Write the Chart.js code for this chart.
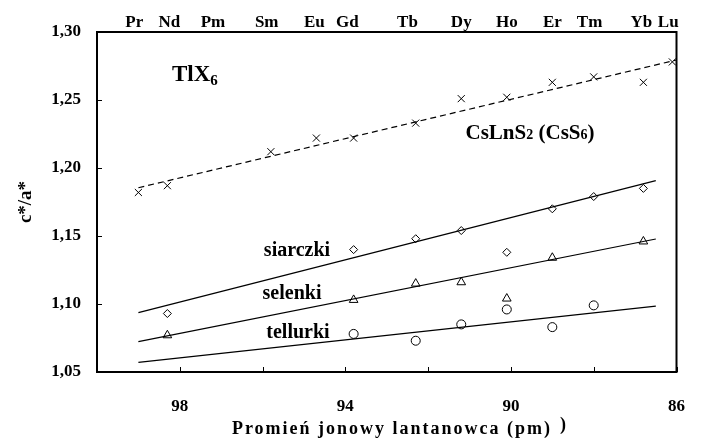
<!DOCTYPE html>
<html>
<head>
<meta charset="utf-8">
<script src="https://cdn.jsdelivr.net/npm/chart.js@4.4.1/dist/chart.umd.min.js"></script>
<style>
  html, body { margin: 0; padding: 0; background: #fff; }
</style>
</head>
<body>
<canvas id="chart" width="701" height="439"></canvas>
<script>
const FONT = '"Liberation Serif", "Times New Roman", serif';

// lanthanide labels along the top edge, and where they sit (pm)
const elementNames = ['Pr', 'Nd', 'Pm', 'Sm', 'Eu', 'Gd', 'Tb', 'Dy', 'Ho', 'Er', 'Tm', 'Yb', 'Lu'];
const elementPos = [99.1, 98.25, 97.2, 95.9, 94.75, 93.95, 92.5, 91.2, 90.1, 89.0, 88.1, 86.85, 86.2];

// CsLnS2 (CsS6)
const csX = [99.0, 98.3, 95.8, 94.7, 93.8, 92.3, 91.2, 90.1, 89.0, 88.0, 86.8, 86.1];
const csY = [1.182, 1.187, 1.212, 1.222, 1.222, 1.233, 1.251, 1.252, 1.263, 1.267, 1.263, 1.278];
const csFitX = [99.0, 86.0];
const csFitY = [1.1855, 1.2794];

// siarczki
const sulX = [98.3, 93.8, 92.3, 91.2, 90.1, 89.0, 88.0, 86.8];
const sulY = [1.093, 1.140, 1.148, 1.154, 1.138, 1.170, 1.179, 1.185];
const sulFitX = [99.0, 86.5];
const sulFitY = [1.0936, 1.1907];

// selenki
const selX = [98.3, 93.8, 92.3, 91.2, 90.1, 89.0, 86.8];
const selY = [1.077, 1.103, 1.115, 1.116, 1.104, 1.134, 1.146];
const selFitX = [99.0, 86.5];
const selFitY = [1.0723, 1.1478];

// tellurki
const telX = [93.8, 92.3, 91.2, 90.1, 89.0, 88.0];
const telY = [1.078, 1.073, 1.085, 1.096, 1.083, 1.099];
const telFitX = [99.0, 86.5];
const telFitY = [1.0571, 1.0985];

const pts = (xs, ys) => xs.map((x, i) => ({ x, y: ys[i] }));

function markers(xs, ys, style, radius) {
    return {
        type: 'scatter', data: pts(xs, ys), pointStyle: style, pointRadius: radius,
        borderColor: '#000', backgroundColor: '#fff', borderWidth: 1, showLine: false
    };
}
function fit(xs, ys, dash) {
    return {
        type: 'line', data: pts(xs, ys), borderColor: '#000', borderWidth: 1.2,
        borderDash: dash || [], pointRadius: 0, fill: false, tension: 0
    };
}

function drawRuns(ctx, x, y, runs, align) {
    let w = 0;
    runs.forEach(r => { ctx.font = `bold ${r.size}px ${FONT}`; w += ctx.measureText(r.t).width; });
    let cx = align === 'center' ? x - w / 2 : x;
    runs.forEach(r => {
        ctx.font = `bold ${r.size}px ${FONT}`;
        ctx.fillText(r.t, cx, y + (r.dy || 0));
        cx += ctx.measureText(r.t).width;
    });
}

const framePlugin = {
    id: 'frame',
    afterDraw(chart) {
        const ctx = chart.ctx;
        const { left, top, right, bottom } = chart.chartArea;
        const xs = chart.scales.x, ys = chart.scales.y;
        ctx.save();
        ctx.strokeStyle = '#000';
        ctx.lineWidth = 1;
        ys.ticks.forEach(t => {
            const py = Math.round(ys.getPixelForValue(t.value)) + 0.5;
            ctx.beginPath(); ctx.moveTo(left, py); ctx.lineTo(left + 5, py); ctx.stroke();
        });
        xs.ticks.forEach(t => {
            const px = Math.round(xs.getPixelForValue(t.value)) + 0.5;
            ctx.beginPath(); ctx.moveTo(px, bottom); ctx.lineTo(px, bottom - 5); ctx.stroke();
        });
        ctx.lineWidth = 2;
        ctx.strokeRect(left, top, right - left, bottom - top);

        ctx.fillStyle = '#000';
        ctx.textBaseline = 'alphabetic';
        ctx.textAlign = 'left';
        drawRuns(ctx, 172, 81, [{ t: 'TlX', size: 23 }, { t: '6', size: 15, dy: 4 }], 'left');
        drawRuns(ctx, 530, 139, [
            { t: 'CsLnS', size: 21 }, { t: '2', size: 14 }, { t: ' (CsS', size: 21 },
            { t: '6', size: 14 }, { t: ')', size: 21 }
        ], 'center');
        drawRuns(ctx, 297, 256, [{ t: 'siarczki', size: 20 }], 'center');
        drawRuns(ctx, 292, 299, [{ t: 'selenki', size: 20 }], 'center');
        drawRuns(ctx, 298, 338, [{ t: 'tellurki', size: 20 }], 'center');

        ctx.font = `bold 18px ${FONT}`;
        ctx.letterSpacing = '2px';
        ctx.textAlign = 'center';
        ctx.fillText('Promień jonowy lantanowca (pm)', 392, 434);
        ctx.letterSpacing = '0px';
        ctx.fillText(')', 563, 430);
        ctx.restore();
    }
};

new Chart(document.getElementById('chart'), {
    type: 'scatter',
    data: {
        datasets: [
            fit(csFitX, csFitY, [6, 4]),
            fit(sulFitX, sulFitY),
            fit(selFitX, selFitY),
            fit(telFitX, telFitY),
            markers(csX, csY, 'crossRot', 5),
            markers(sulX, sulY, 'rectRot', 4),
            markers(selX, selY, 'triangle', 5),
            markers(telX, telY, 'circle', 4.5)
        ]
    },
    options: {
        responsive: false,
        animation: false,
        layout: { padding: { left: 0, top: 0, right: 11, bottom: 0 } },
        plugins: { legend: { display: false }, tooltip: { enabled: false } },
        scales: {
            x: {
                type: 'linear', reverse: true, min: 86, max: 100,
                afterFit: s => { s.height = 67; },
                grid: { display: false }, border: { display: false },
                ticks: {
                    stepSize: 2, autoSkip: false, maxRotation: 0, padding: 16,
                    color: '#000', font: { family: FONT, size: 17, weight: 'bold' },
                    callback: v => ((v - 86) % 4 === 0 ? v : '')
                }
            },
            x2: {
                type: 'linear', position: 'top', reverse: true, min: 86, max: 100,
                afterFit: s => { s.height = 32; },
                afterBuildTicks: s => { s.ticks = elementPos.map(v => ({ value: v })); },
                grid: { display: false }, border: { display: false },
                ticks: {
                    autoSkip: false, maxRotation: 0, padding: -9,
                    color: '#000', font: { family: FONT, size: 17, weight: 'bold' },
                    callback: (v, i) => elementNames[i]
                }
            },
            y: {
                min: 1.05, max: 1.30,
                afterFit: s => { s.width = 97; },
                grid: { display: false }, border: { display: false },
                ticks: {
                    stepSize: 0.05, padding: 8,
                    color: '#000', font: { family: FONT, size: 17, weight: 'bold' },
                    callback: v => v.toFixed(2).replace('.', ',')
                },
                title: {
                    display: true, text: 'c*/a*', color: '#000',
                    padding: { top: 15, bottom: 0 },
                    font: { family: FONT, size: 19, weight: 'bold' }
                }
            }
        }
    },
    plugins: [framePlugin]
});
</script>
</body>
</html>
